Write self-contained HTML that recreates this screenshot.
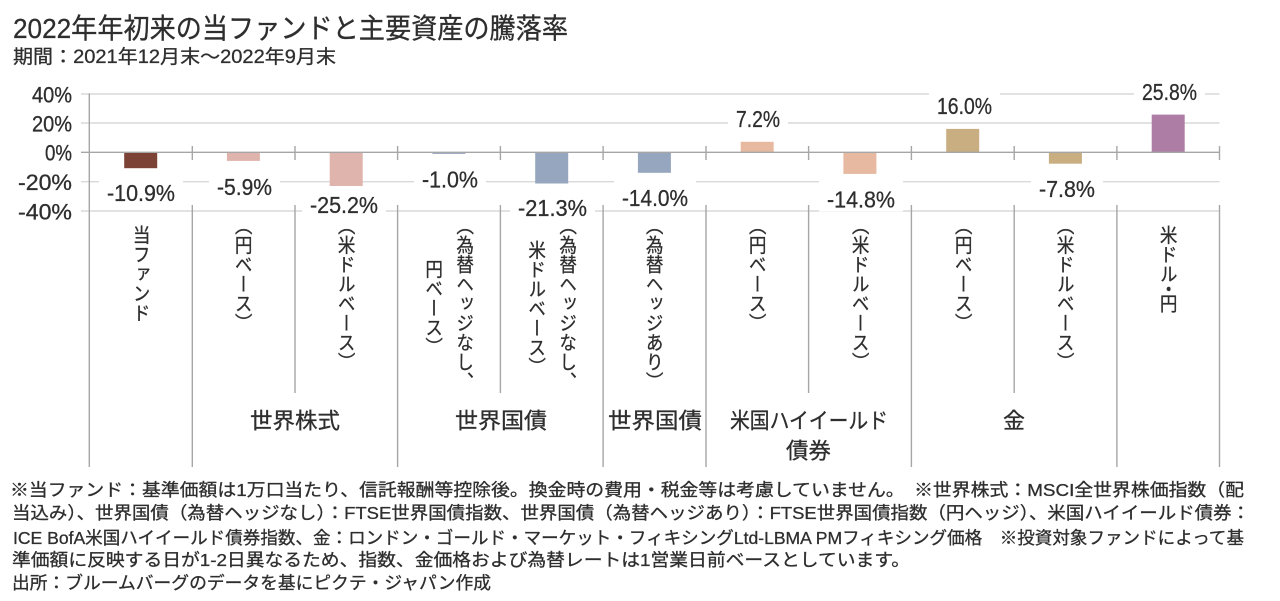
<!DOCTYPE html>
<html><head><meta charset="utf-8">
<style>
html,body{margin:0;padding:0;background:#fff;}
#wrap{position:relative;width:1280px;height:601px;overflow:hidden;background:#fff;}
svg{position:absolute;left:0;top:0;}
.vl{position:absolute;top:225px;writing-mode:vertical-rl;font-family:"Noto Sans CJK JP","Liberation Sans",sans-serif;font-size:19.5px;line-height:34.5px;text-align:center;font-feature-settings:"vhal";text-spacing-trim:space-all;transform:translateX(-50%) scaleX(0.9);white-space:nowrap;color:#2e2e2e;-webkit-text-stroke:0.3px #2e2e2e;}
.t text{stroke:#2e2e2e;stroke-width:0.3px;}
</style></head>
<body><div id="wrap">
<svg width="1280" height="601" viewBox="0 0 1280 601" xmlns="http://www.w3.org/2000/svg" font-family="'Liberation Sans','Noto Sans CJK JP',sans-serif">
<!-- title -->
<g class="t" fill="#2e2e2e">
<text x="13" y="38" font-size="28" textLength="555" lengthAdjust="spacingAndGlyphs">2022年年初来の当ファンドと主要資産の騰落率</text>
<text x="13" y="63" font-size="19" textLength="323" lengthAdjust="spacingAndGlyphs">期間：2021年12月末～2022年9月末</text>
</g>

<!-- gridlines -->
<g stroke="#d9d9d9" stroke-width="1.4">
<line x1="81" y1="94" x2="1219.5" y2="94"/>
<line x1="81" y1="123" x2="1219.5" y2="123"/>
<line x1="81" y1="181.7" x2="1219.5" y2="181.7"/>
<line x1="81" y1="211" x2="1219.5" y2="211"/>
</g>

<!-- bars -->
<g>
<rect x="124.2" y="152.3" width="33" height="15.9" fill="#7d4236"/>
<rect x="226.9" y="152.3" width="33" height="8.6" fill="#dfb4ac"/>
<rect x="329.7" y="152.3" width="33" height="36.9" fill="#dfb4ac"/>
<rect x="432.4" y="152.3" width="33" height="1.6" fill="#96a6be"/>
<rect x="535.2" y="152.3" width="33" height="31.2" fill="#96a6be"/>
<rect x="637.9" y="152.3" width="33" height="20.5" fill="#96a6be"/>
<rect x="740.7" y="141.8" width="33" height="10.5" fill="#e6b9a0"/>
<rect x="843.4" y="152.3" width="33" height="21.6" fill="#e6b9a0"/>
<rect x="946.2" y="128.9" width="33" height="23.4" fill="#c8ae80"/>
<rect x="1048.9" y="152.3" width="33" height="11.4" fill="#c8ae80"/>
<rect x="1151.7" y="114.6" width="33" height="37.7" fill="#ad7da5"/>
</g>

<!-- zero line and ticks -->
<g stroke="#a6a6a6" stroke-width="1.4">
<line x1="81" y1="152.3" x2="1219.5" y2="152.3"/>
<line x1="192.3" y1="146" x2="192.3" y2="160"/>
<line x1="295" y1="146" x2="295" y2="160"/>
<line x1="397.6" y1="146" x2="397.6" y2="160"/>
<line x1="500.4" y1="146" x2="500.4" y2="160"/>
<line x1="603.1" y1="146" x2="603.1" y2="160"/>
<line x1="706" y1="146" x2="706" y2="160"/>
<line x1="808.6" y1="146" x2="808.6" y2="160"/>
<line x1="911.4" y1="146" x2="911.4" y2="160"/>
<line x1="1014.2" y1="146" x2="1014.2" y2="160"/>
<line x1="1116.9" y1="146" x2="1116.9" y2="160"/>
<line x1="1219.5" y1="146" x2="1219.5" y2="160"/>
<line x1="89.3" y1="93.5" x2="89.3" y2="467"/>
<line x1="192.3" y1="205" x2="192.3" y2="467"/>
<line x1="397.6" y1="205" x2="397.6" y2="467"/>
<line x1="603.1" y1="205" x2="603.1" y2="467"/>
<line x1="706" y1="205" x2="706" y2="467"/>
<line x1="911.4" y1="205" x2="911.4" y2="467"/>
<line x1="1116.9" y1="205" x2="1116.9" y2="467"/>
<line x1="1219.5" y1="205" x2="1219.5" y2="467"/>
<line x1="295" y1="205" x2="295" y2="393"/>
<line x1="500.4" y1="205" x2="500.4" y2="393"/>
<line x1="808.6" y1="205" x2="808.6" y2="393"/>
<line x1="1014.2" y1="205" x2="1014.2" y2="393"/>
</g>

<!-- y axis labels -->
<g class="t" font-size="22" fill="#2e2e2e">
<text x="32" y="102.5" textLength="40" lengthAdjust="spacingAndGlyphs">40%</text>
<text x="32" y="131.5" textLength="40" lengthAdjust="spacingAndGlyphs">20%</text>
<text x="45" y="160.5" textLength="27" lengthAdjust="spacingAndGlyphs">0%</text>
<text x="18" y="190" textLength="54" lengthAdjust="spacingAndGlyphs">-20%</text>
<text x="18" y="219.3" textLength="54" lengthAdjust="spacingAndGlyphs">-40%</text>
</g>

<!-- data label backgrounds -->
<g fill="#fff">
<rect x="99" y="174" width="84" height="31"/>
<rect x="209" y="168" width="71" height="31"/>
<rect x="302" y="186" width="84" height="31"/>
<rect x="414" y="160.5" width="72" height="31"/>
<rect x="510" y="189" width="85" height="31"/>
<rect x="614" y="179" width="82" height="31"/>
<rect x="728" y="100" width="60" height="31"/>
<rect x="819" y="180.5" width="84" height="31"/>
<rect x="929" y="87" width="71" height="31"/>
<rect x="1031" y="170" width="72" height="31"/>
<rect x="1134" y="73" width="71" height="31"/>
</g>
<!-- data labels -->
<g class="t" font-size="23" fill="#2e2e2e">
<text x="107" y="201" textLength="68" lengthAdjust="spacingAndGlyphs">-10.9%</text>
<text x="217" y="195" textLength="55" lengthAdjust="spacingAndGlyphs">-5.9%</text>
<text x="310" y="213" textLength="68" lengthAdjust="spacingAndGlyphs">-25.2%</text>
<text x="422" y="187.5" textLength="56" lengthAdjust="spacingAndGlyphs">-1.0%</text>
<text x="518" y="216" textLength="69" lengthAdjust="spacingAndGlyphs">-21.3%</text>
<text x="622" y="206" textLength="66" lengthAdjust="spacingAndGlyphs">-14.0%</text>
<text x="736" y="127" textLength="44" lengthAdjust="spacingAndGlyphs">7.2%</text>
<text x="827" y="207.5" textLength="68" lengthAdjust="spacingAndGlyphs">-14.8%</text>
<text x="937" y="114" textLength="55" lengthAdjust="spacingAndGlyphs">16.0%</text>
<text x="1039" y="197" textLength="56" lengthAdjust="spacingAndGlyphs">-7.8%</text>
<text x="1142" y="100" textLength="55" lengthAdjust="spacingAndGlyphs">25.8%</text>
</g>

<!-- group labels -->
<g class="t" font-size="22" fill="#2e2e2e">
<text x="250" y="428.5" textLength="90" lengthAdjust="spacingAndGlyphs">世界株式</text>
<text x="455" y="428.5" textLength="92" lengthAdjust="spacingAndGlyphs">世界国債</text>
<text x="608" y="428.5" textLength="94" lengthAdjust="spacingAndGlyphs">世界国債</text>
<text x="730" y="428.5" textLength="158" lengthAdjust="spacingAndGlyphs">米国ハイイールド</text>
<text x="786" y="458.5" textLength="45" lengthAdjust="spacingAndGlyphs">債券</text>
<text x="1003" y="428.5" textLength="22" lengthAdjust="spacingAndGlyphs">金</text>
</g>

<!-- footnotes -->
<g class="t" font-size="17.5" fill="#2e2e2e">
<text x="10" y="496" textLength="1234" lengthAdjust="spacingAndGlyphs">※当ファンド：基準価額は1万口当たり、信託報酬等控除後。換金時の費用・税金等は考慮していません。　※世界株式：MSCI全世界株価指数（配</text>
<text x="12" y="519" textLength="1238" lengthAdjust="spacingAndGlyphs">当込み）、世界国債（為替ヘッジなし）：FTSE世界国債指数、世界国債（為替ヘッジあり）：FTSE世界国債指数（円ヘッジ）、米国ハイイールド債券：</text>
<text x="13" y="544" textLength="1231" lengthAdjust="spacingAndGlyphs">ICE BofA米国ハイイールド債券指数、金：ロンドン・ゴールド・マーケット・フィキシングLtd-LBMA PMフィキシング価格　※投資対象ファンドによって基</text>
<text x="12" y="566" textLength="898" lengthAdjust="spacingAndGlyphs">準価額に反映する日が1-2日異なるため、指数、金価格および為替レートは1営業日前ベースとしています。</text>
<text x="12" y="589" textLength="479" lengthAdjust="spacingAndGlyphs">出所：ブルームバーグのデータを基にピクテ・ジャパン作成</text>
</g>
</svg>

<!-- vertical category labels -->
<div class="vl" style="left:140.7px">当ファンド</div>
<div class="vl" style="left:243.4px">（円ベース）</div>
<div class="vl" style="left:346.2px">（米ドルベース）</div>
<div class="vl" style="left:448.9px">（為替ヘッジなし、<br>円ベース）</div>
<div class="vl" style="left:551.7px">（為替ヘッジなし、<br>米ドルベース）</div>
<div class="vl" style="left:654.4px">（為替ヘッジあり）</div>
<div class="vl" style="left:757.2px">（円ベース）</div>
<div class="vl" style="left:859.9px">（米ドルベース）</div>
<div class="vl" style="left:962.7px">（円ベース）</div>
<div class="vl" style="left:1065.4px">（米ドルベース）</div>
<div class="vl" style="left:1168.2px">米ドル・円</div>
</div></body></html>
